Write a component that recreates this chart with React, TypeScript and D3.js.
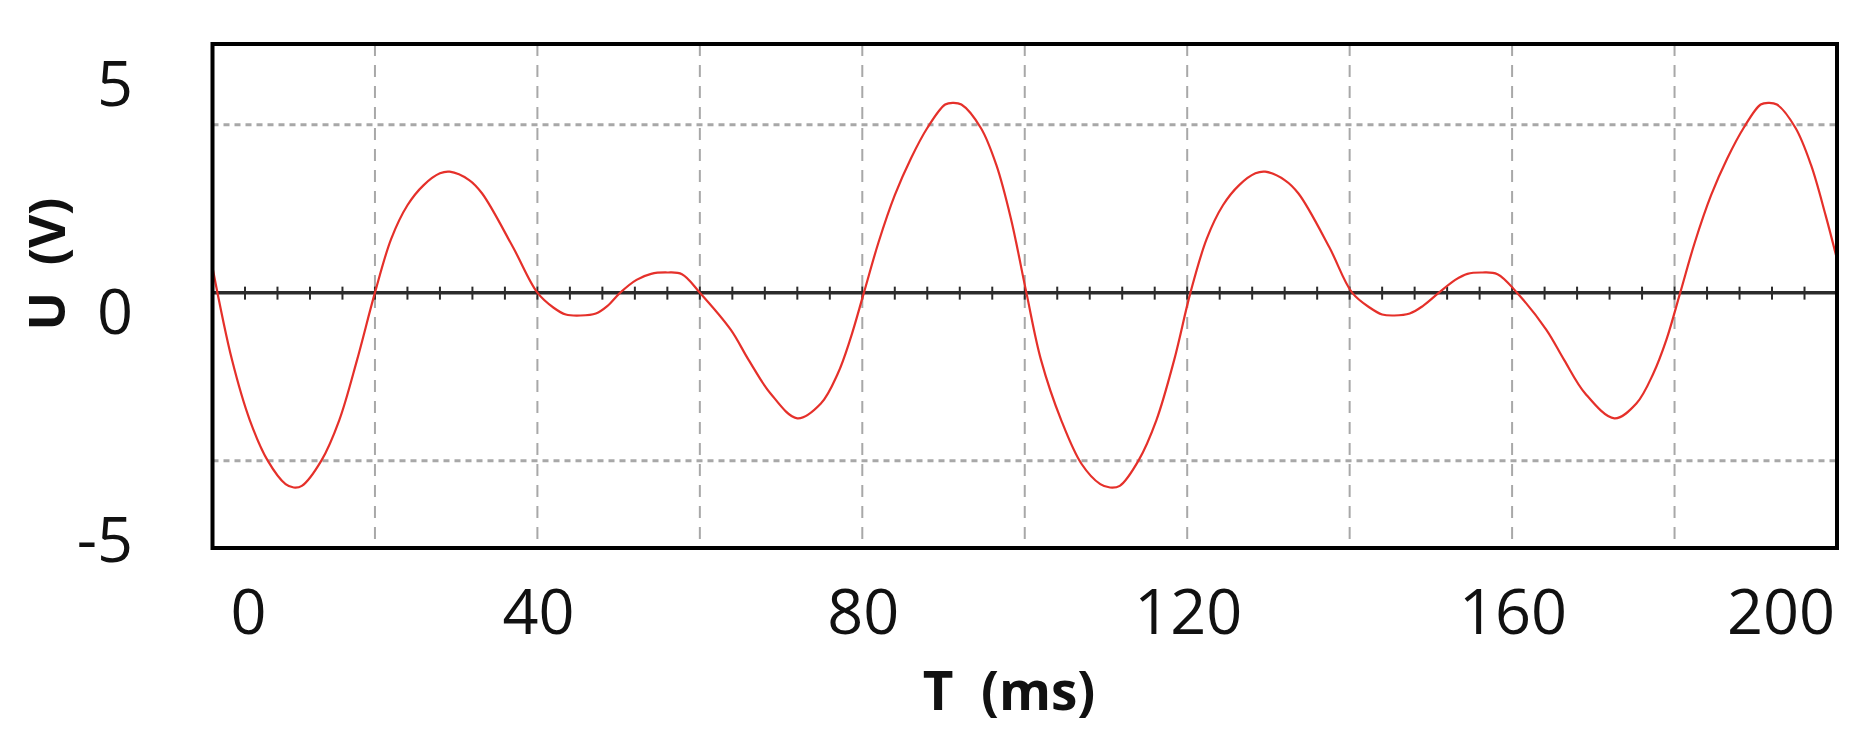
import React from "react";
import * as d3 from "d3";

// ---- data ----
const timeMs = [
  0, 2.4, 4.6, 6.8, 9, 10, 11, 13.4, 15.6, 17.8, 20, 22, 24, 26, 28, 29.2, 31.6, 33.2, 37, 40,
  42, 43.5, 45.3, 47.2, 48.6, 50.2, 52.2, 54, 56, 57.8, 60, 63.8, 66, 68.7, 72, 74.9,
  77, 78.5, 80.2, 82, 84, 86, 88, 90.2, 91.2, 92.2, 94.6, 96.5, 98.3, 100.2, 102, 104.5,
  107, 109.3, 110.5, 111.7, 114, 116.2, 118.4, 120.4, 122.4, 124.4, 126.4, 128.4, 129.6, 132,
  133.7, 137.5, 140.3, 142.5, 144, 145.5, 147.4, 149, 151, 153, 154.5, 156.3, 158.2,
  160.6, 164.2, 166.4, 169, 172.6, 175.3, 177.4, 179, 180.7, 182.5, 184.5, 186.5, 188.5, 190.6,
  191.6, 192.6, 194.9, 196.8, 198.6, 200,
];
const voltage = [
  0.75, -2.0, -3.8, -5.0, -5.7, -5.8, -5.75, -5.0, -3.8, -2.0, 0, 1.6, 2.6, 3.2, 3.55, 3.6,
  3.35, 2.95, 1.35, 0, -0.45, -0.65, -0.68, -0.62, -0.4, 0, 0.38, 0.56, 0.6, 0.55, 0, -1.1,
  -2.0, -3.0, -3.74, -3.3, -2.4, -1.4, 0, 1.5, 2.9, 4.0, 4.9, 5.6, 5.65, 5.6, 4.9, 3.8,
  2.2, 0, -2.0, -3.8, -5.1, -5.7, -5.8, -5.75, -5.0, -3.8, -2.0, 0, 1.6, 2.6, 3.2, 3.55,
  3.6, 3.35, 2.95, 1.35, 0, -0.45, -0.65, -0.68, -0.62, -0.4, 0, 0.38, 0.56, 0.6, 0.55, 0,
  -1.1, -2.0, -3.0, -3.74, -3.3, -2.4, -1.4, 0, 1.5, 2.9, 4.0, 4.9, 5.6, 5.65, 5.6, 4.9,
  3.8, 2.3, 1.0,
];
const xTickLabels = [0, 40, 80, 120, 160, 200];
const xGridValues = [20, 40, 60, 80, 100, 120, 140, 160, 180];
const yTickLabels = [5, 0, -5];
const yGridValues = [5, -5];
const xTitle = "T  (ms)";
const yTitle = "U  (V)";

// ---- layout ----
const W = 1872;
const H = 746;
const left = 212.5;
const right = 1837;
const top = 44;
const bottom = 548;
const FONT = "'Open Sans', 'Noto Sans', sans-serif";

export default function App() {
  const x = d3.scaleLinear().domain([0, 200]).range([left, right]);
  const y = d3.scaleLinear().domain([-7.6, 7.4]).range([bottom, top]);
  // tick label placement (labels in the reference sit apart from the grid lines)
  const yLabel = d3.scaleLinear().domain([-5, 5]).range([539, 83]);

  const pts = timeMs.map((t, i) => [t, voltage[i]] as [number, number]);
  const line = d3
    .line<[number, number]>()
    .x((d) => x(d[0]))
    .y((d) => y(d[1]))
    .curve(d3.curveCatmullRom.alpha(0.5));

  const minorTicks = d3.range(4, 200, 4);

  return (
    <svg
      width={W}
      height={H}
      style={{ position: "absolute", left: 0, top: 0, background: "#fff" }}
    >
      <rect x={0} y={0} width={W} height={H} fill="#fff" />
      {/* vertical dashed grid */}
      {xGridValues.map((v) => (
        <line
          key={"gx" + v}
          x1={x(v)}
          x2={x(v)}
          y1={top}
          y2={bottom}
          stroke="#a8a8a8"
          strokeWidth={2}
          strokeDasharray="12,9"
        />
      ))}
      {/* horizontal dotted grid */}
      {yGridValues.map((v) => (
        <line
          key={"gy" + v}
          x1={left}
          x2={right}
          y1={y(v)}
          y2={y(v)}
          stroke="#a8a8a8"
          strokeWidth={3}
          strokeDasharray="6,5"
        />
      ))}
      {/* zero axis with minor ticks */}
      <line x1={left} x2={right} y1={y(0)} y2={y(0)} stroke="#2b2b2b" strokeWidth={3.5} />
      {minorTicks.map((v) => (
        <line
          key={"mt" + v}
          x1={x(v)}
          x2={x(v)}
          y1={y(0) - 6}
          y2={y(0) + 7}
          stroke="#2b2b2b"
          strokeWidth={2}
        />
      ))}
      {/* signal */}
      <path d={line(pts) || ""} fill="none" stroke="#e5302a" strokeWidth={2.2} />
      {/* frame */}
      <rect
        x={left}
        y={top}
        width={right - left}
        height={bottom - top}
        fill="none"
        stroke="#000"
        strokeWidth={4}
      />
      {/* x tick labels */}
      {xTickLabels.map((v, i) => {
        const isFirst = i === 0;
        const isLast = i === xTickLabels.length - 1;
        const anchor = isFirst ? "start" : isLast ? "end" : "middle";
        const px = isFirst ? x(v) + 18 : isLast ? x(v) - 2 : x(v) + 1;
        return (
          <text
            key={"xl" + v}
            x={px}
            y={634}
            textAnchor={anchor}
            fontFamily={FONT}
            fontSize={63}
            fill="#111"
          >
            {v}
          </text>
        );
      })}
      {/* y tick labels */}
      {yTickLabels.map((v) => (
        <text
          key={"yl" + v}
          x={133}
          y={yLabel(v) + 23}
          textAnchor="end"
          fontFamily={FONT}
          fontSize={63}
          fill="#111"
        >
          {v}
        </text>
      ))}
      {/* axis titles */}
      <text
        x={1009}
        y={710}
        textAnchor="middle"
        fontFamily={FONT}
        fontWeight="bold"
        fontSize={53}
        fill="#111"
        style={{ whiteSpace: "pre" }}
      >
        {xTitle}
      </text>
      <text
        transform={`translate(45,264) rotate(-90)`}
        textAnchor="middle"
        dominantBaseline="central"
        fontFamily={FONT}
        fontWeight="bold"
        fontSize={51}
        fill="#111"
        style={{ whiteSpace: "pre" }}
      >
        {yTitle}
      </text>
    </svg>
  );
}
